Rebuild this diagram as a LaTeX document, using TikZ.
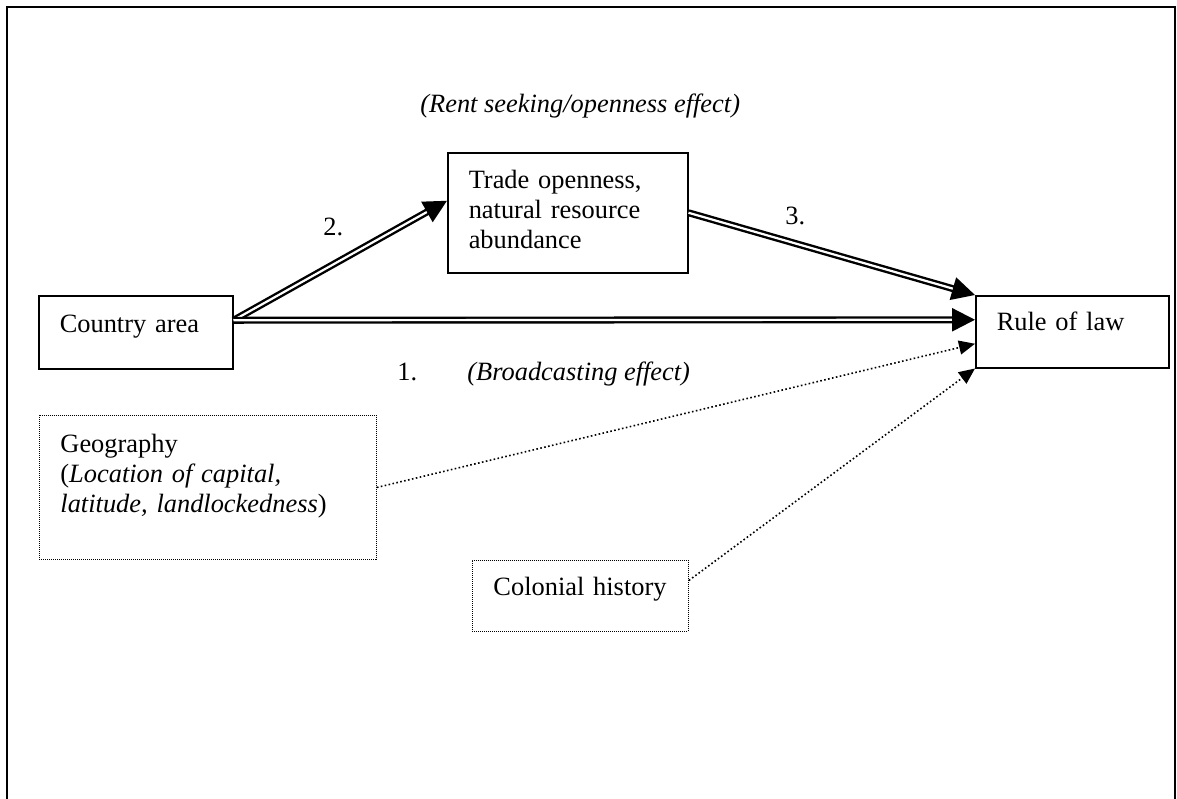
\documentclass[tikz,border=0pt]{standalone}
\usepackage{fontspec}
\setmainfont{Liberation Serif}
\usetikzlibrary{arrows.meta}
\begin{document}
\begin{tikzpicture}[x=0.5pt,y=-0.5pt]
\tikzstyle{caixa}=[draw, line width=0.75pt, anchor=north west, align=left, inner xsep=10.5pt, inner ysep=0pt, font=\fontsize{13.2}{15}\selectfont]
\tikzstyle{caixaponto}=[caixa, line width=0.45pt, dash pattern=on 0.5pt off 0.5pt]
\tikzstyle{seta}=[double, double distance=1.1pt, line width=1.2pt, -{Triangle[length=11.5pt, width=11.5pt, fill=black]}]
\tikzstyle{setaponto}=[line width=0.8pt, dash pattern=on 0.8pt off 1.2pt, -{Triangle[length=8pt, width=7pt]}]
\tikzstyle{rotulo}=[anchor=base west, inner sep=0, font=\fontsize{13.2}{15}\selectfont]
\useasboundingbox (0,0) rectangle (1177,798);
\draw[line width=1pt](7,820)--(7,7)--(1175,7)--(1175,820);
% boxes
\node[caixa, text width=76pt, text height=18.5pt, text depth=18pt] (area) at(38,295){Country area};
\node[caixa, text width=99pt, text height=18pt, text depth=42pt] (comercio) at(447,152){Trade openness,\\natural resource\\abundance};
\node[caixa, text width=75.5pt, text height=17.5pt, text depth=18.5pt] (lei) at(975,295){Rule of law};
\node[caixaponto, text width=147.5pt, text height=18.5pt, text depth=53.5pt] (geografia) at(39,415){Geography\\(\textit{Location of capital,}\\\textit{latitude, landlockedness})};
\node[caixaponto, text width=87pt, text height=17.5pt, text depth=18pt] (colonial) at(472,560){Colonial history};
% arrows
\draw[seta]([yshift=6pt]area.east)--([yshift=6pt]comercio.west);
\draw[seta]([yshift=6pt]area.east)--([yshift=6pt]lei.west);
\draw[seta](comercio.east)--(lei.north west);
\draw[setaponto](geografia.east)--([yshift=-6pt]lei.west);
\draw[setaponto]([yshift=7.75pt]colonial.east)--(lei.south west);
% labels
\node[rotulo] (efeito23) at(420,112){\textit{(Rent seeking/openness effect)}};
\node[rotulo] (n2) at(323,235){2.};
\node[rotulo] (n3) at(785,224){3.};
\node[rotulo] (n1) at(397,380){1.};
\node[rotulo] (efeito1) at(467,380){\textit{(Broadcasting effect)}};
\end{tikzpicture}
\end{document}
